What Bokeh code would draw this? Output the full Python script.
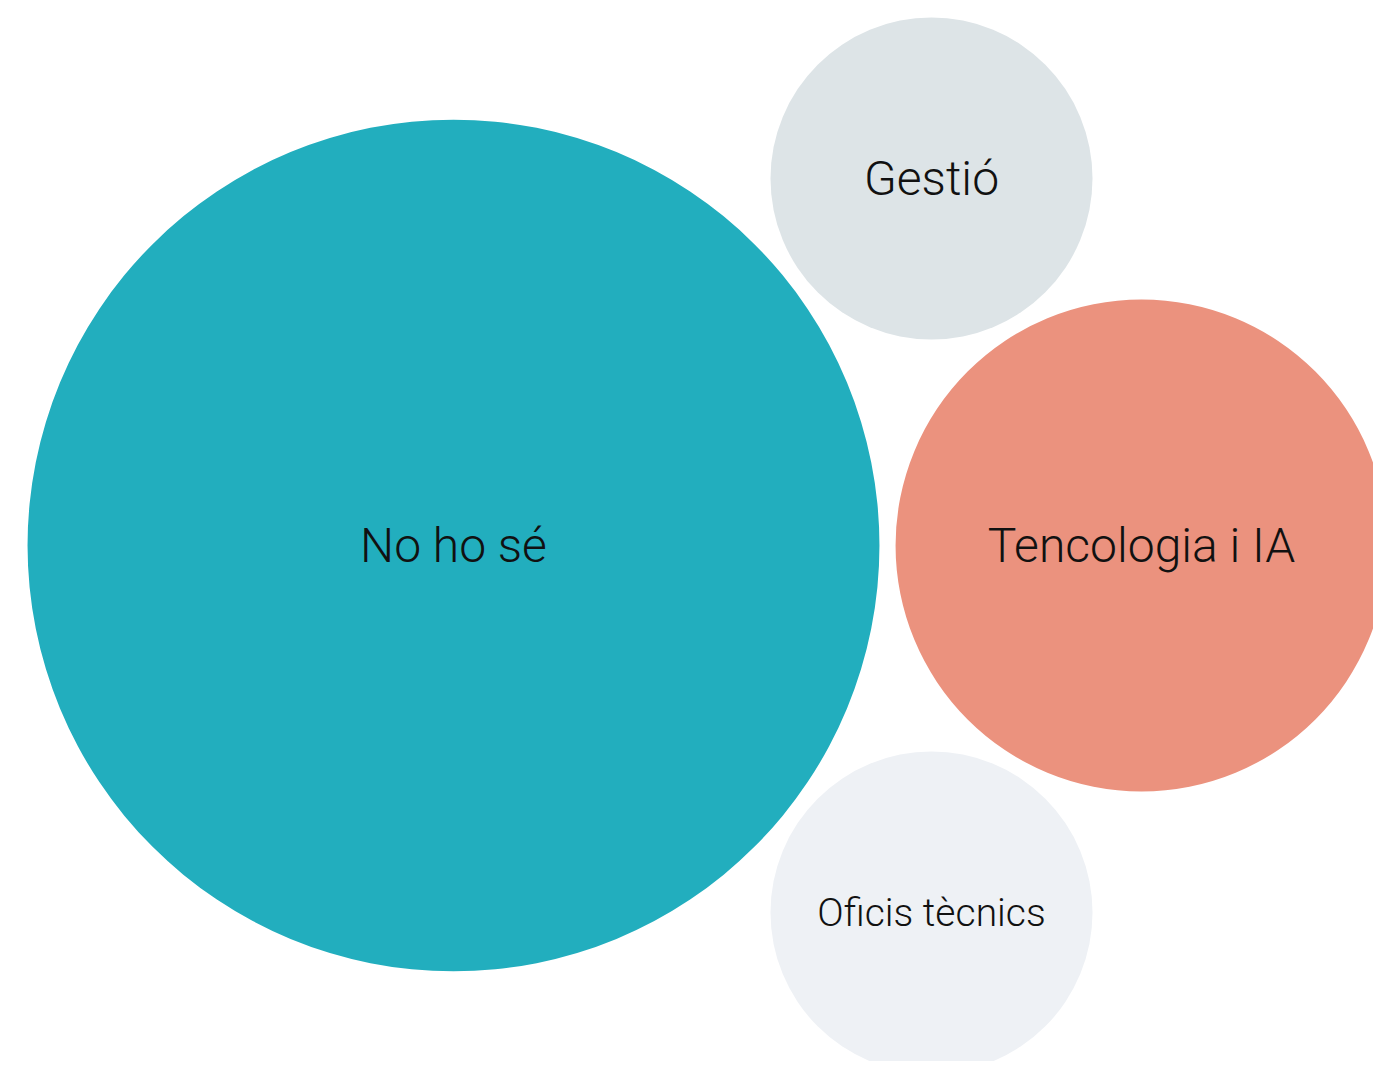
from bokeh.plotting import figure
from bokeh.models import Range1d, ColumnDataSource
from bokeh.core.properties import value
from bokeh.embed import file_html
from bokeh.resources import INLINE
import math

# --- data ---
categories = ["No ho sé", "Gestió", "Tencologia i IA", "Oficis tècnics"]
counts = [21, 3, 7, 3]

# --- layout / style (positions in reference pixel space) ---
centers_x = [453, 931, 1141, 931]
centers_y = [545, 178, 545, 912]
colors = ["#22aebe", "#dde4e7", "#eb927e", "#eef1f5"]
label_sizes = ["48px", "48px", "48px", "39px"]
unit_r = 161 / math.sqrt(3)

radii = [unit_r * math.sqrt(v) for v in counts]

src = ColumnDataSource(dict(x=centers_x, y=centers_y, r=radii, c=colors,
                            label=categories, fs=label_sizes))

W, H = 1373, 1061
p = figure(width=W, height=H, output_backend="svg", toolbar_location=None,
           x_range=Range1d(0, W), y_range=Range1d(H, 0),
           min_border=0, outline_line_color=None)
p.axis.visible = False
p.grid.visible = False
p.background_fill_color = "white"
p.border_fill_color = "white"

p.circle(x="x", y="y", radius="r", fill_color="c", line_color=None, source=src)
p.text(x="x", y="y", text="label", text_font=value("Roboto Light, Roboto"),
       text_font_size="fs", text_align="center", text_baseline="middle",
       text_color="#111111", source=src)

open("out.html", "w").write(file_html(p, INLINE))
